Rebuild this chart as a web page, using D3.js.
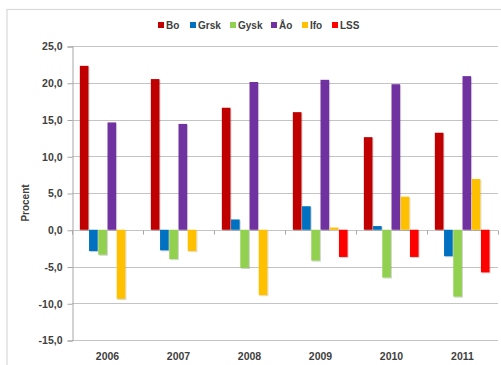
<!DOCTYPE html>
<html>
<head>
<meta charset="utf-8">
<script src="https://cdn.jsdelivr.net/npm/d3@7/dist/d3.min.js"></script>
<style>
  html, body { margin: 0; padding: 0; background: #ffffff; }
  svg { display: block; }
  text { font-family: "Liberation Sans", Arial, sans-serif; font-weight: bold; fill: #404040; }
</style>
</head>
<body>
<svg id="chart" width="501" height="365"></svg>
<script>
// Categories (years) and series
const years = ["2006", "2007", "2008", "2009", "2010", "2011"];
const seriesNames = ["Bo", "Grsk", "Gysk", "Åo", "Ifo", "LSS"];
const seriesColors = ["#C00000", "#0070C0", "#92D050", "#7030A0", "#FFC000", "#FF0000"];

// Percent change per series, one value per year
const bo   = [22.3, 20.5, 16.6, 16.0, 12.6, 13.2];
const grsk = [-2.9, -2.8, 1.4, 3.2, 0.5, -3.6];
const gysk = [-3.4, -4.0, -5.2, -4.2, -6.5, -9.1];
const ao   = [14.6, 14.4, 20.1, 20.4, 19.8, 20.9];
const ifo  = [-9.4, -2.9, -8.9, 0.3, 4.5, 6.9];
const lss  = [0, 0, 0, -3.7, -3.7, -5.8];

const yTicks = [-15, -10, -5, 0, 5, 10, 15, 20, 25];

const seriesValues = [bo, grsk, gysk, ao, ifo, lss];

const svg = d3.select("#chart");

// Soft shadow under the bars
const defs = svg.append("defs");
const f = defs.append("filter").attr("id", "barShadow")
  .attr("x", "-30%").attr("y", "-10%").attr("width", "160%").attr("height", "120%");
f.append("feDropShadow")
  .attr("dx", 1).attr("dy", 1).attr("stdDeviation", 0.6)
  .attr("flood-color", "#000").attr("flood-opacity", 0.18);

// Chart frame
svg.append("rect")
  .attr("x", 7).attr("y", 9.5)
  .attr("width", 520).attr("height", 380)
  .attr("fill", "#ffffff")
  .attr("stroke", "#d9d9d9").attr("stroke-width", 1.2);

const plot = { left: 72, right: 498, top: 46, bottom: 340 };

const y = d3.scaleLinear().domain([-15, 25]).range([plot.bottom, plot.top]);
const x = d3.scaleBand().domain(years).range([plot.left, plot.right]).padding(0);

const bw = x.bandwidth();
const groupW = bw * 6 / 7.7;
const sub = d3.scaleBand().domain(seriesNames)
  .range([(bw - groupW) / 2, (bw + groupW) / 2]).padding(0);

const fmt = v => d3.format(".1f")(v).replace(".", ",").replace("−", "-");

// Horizontal gridlines
svg.append("g")
  .selectAll("line")
  .data(yTicks)
  .join("line")
  .attr("x1", plot.left).attr("x2", plot.right)
  .attr("y1", d => Math.round(y(d)) + 0.5).attr("y2", d => Math.round(y(d)) + 0.5)
  .attr("stroke", "#c4c4c4").attr("stroke-width", 1);

// Y axis
const yAxis = d3.axisLeft(y).tickValues(yTicks).tickFormat(fmt).tickSize(5).tickPadding(5);
const gy = svg.append("g")
  .attr("transform", `translate(${plot.left + 0.5},0.5)`)
  .call(yAxis);
gy.select(".domain").attr("stroke", "#a6a6a6");
gy.selectAll(".tick line").attr("stroke", "#a6a6a6");
gy.selectAll(".tick text")
  .attr("font-size", 10.5).attr("fill", "#404040")
  .attr("font-family", "Liberation Sans, Arial, sans-serif").attr("font-weight", "bold");

// Category tick marks at the zero line, between years
const boundaries = years.map(d => x(d)).concat([plot.right]);
svg.append("g")
  .selectAll("line")
  .data(boundaries)
  .join("line")
  .attr("x1", d => Math.round(d) + 0.5).attr("x2", d => Math.round(d) + 0.5)
  .attr("y1", Math.round(y(0)) + 0.5).attr("y2", Math.round(y(0)) + 4.5)
  .attr("stroke", "#a6a6a6");

// Category labels at the bottom
svg.append("g")
  .selectAll("text")
  .data(years)
  .join("text")
  .attr("x", d => x(d) + bw / 2)
  .attr("y", 360)
  .attr("text-anchor", "middle")
  .attr("font-size", 10.5)
  .text(d => d);

// Bars
const groups = svg.append("g")
  .selectAll("g")
  .data(years)
  .join("g")
  .attr("transform", d => `translate(${x(d)},0)`);

groups.selectAll("rect")
  .data((d, i) => seriesNames.map((s, k) => ({ s, k, v: seriesValues[k][i] })))
  .join("rect")
  .attr("x", d => sub(d.s))
  .attr("width", sub.bandwidth() - 0.6)
  .attr("y", d => y(Math.max(0, d.v)))
  .attr("height", d => Math.abs(y(d.v) - y(0)))
  .attr("fill", d => seriesColors[d.k])
  .attr("filter", "url(#barShadow)");

// Y axis title
svg.append("text")
  .attr("transform", `translate(29,${(plot.top + plot.bottom) / 2 + 10}) rotate(-90)`)
  .attr("text-anchor", "middle")
  .attr("font-size", 10)
  .attr("fill", "#262626")
  .text("Procent");

// Legend
const legendX = [158, 190, 230, 271, 302, 332];
const legend = svg.append("g")
  .selectAll("g")
  .data(seriesNames)
  .join("g")
  .attr("transform", (d, i) => `translate(${legendX[i]},25)`);
legend.append("rect")
  .attr("x", 0).attr("y", -3)
  .attr("width", 6).attr("height", 6)
  .attr("fill", (d, i) => seriesColors[i]);
legend.append("text")
  .attr("x", 8).attr("y", 3.8)
  .attr("font-size", 10)
  .attr("fill", "#404040")
  .text(d => d);
</script>
</body>
</html>
